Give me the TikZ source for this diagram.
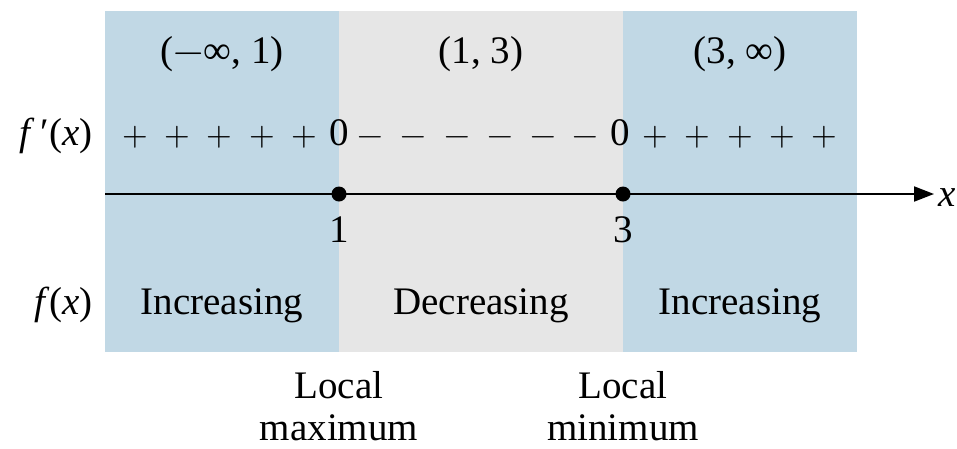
\documentclass[tikz,border=0pt]{standalone}
\usepackage{fontspec}
\setmainfont{Liberation Serif}
\usepackage{unicode-math}
\setmathfont{Latin Modern Math}
\usetikzlibrary{arrows.meta}
\definecolor{bluebg}{HTML}{C1D8E5}
\definecolor{graybg}{HTML}{E6E6E6}
\begin{document}
\begin{tikzpicture}[x=1pt,y=-1pt,
  txt/.style={inner sep=0pt,anchor=base,font=\fontsize{39}{46}\selectfont},
  sgn/.style={inner sep=0pt,anchor=base,font=\fontsize{33}{40}\selectfont},
  dot/.style={circle,fill=black,inner sep=0pt,minimum size=15pt}]
\useasboundingbox (0,0) rectangle (957,448);
% background bands
\fill[bluebg] (105,11) rectangle (339,352);
\fill[graybg] (339,11) rectangle (623,352);
\fill[bluebg] (623,11) rectangle (857,352);
% interval labels
\node[txt] (i1) at (222,63) {($-$∞, 1)};
\node[txt] (i2) at (481,63) {(1, 3)};
\node[txt] (i3) at (740,63) {(3, ∞)};
% f'(x) row
\node[txt,anchor=base east] (fp) at (93,145) {\textit{f}\,′(\textit{x})};
\foreach \x [count=\i] in {135,177,219,262,304} \node[sgn] (pl\i) at (\x,145) {$+$};
\node[txt] (z1) at (339,145) {0};
\foreach \x [count=\i] in {370,413,457,500,543,585} \node[sgn] (mi\i) at (\x,145) {$-$};
\node[txt] (z3) at (620,145) {0};
\foreach \x [count=\i] in {655,697,740,782,824} \node[sgn] (pr\i) at (\x,145) {$+$};
% axis
\coordinate (a0) at (105,194);
\coordinate (a1) at (934,194);
\draw[line width=2pt,-{Triangle[length=20pt,width=15pt]}] (a0) -- (a1);
\node[txt,anchor=base west] (xl) at (938,206) {\textit{x}};
\node[dot] (d1) at (339,194) {};
\node[dot] (d3) at (623,194) {};
\node[txt] (n1) at (339,242) {1};
\node[txt] (n3) at (623,242) {3};
% f(x) row
\node[txt,anchor=base east] (f) at (93,314) {\textit{f}(\textit{x})};
\node[txt] (inc1) at (222,314) {Increasing};
\node[txt] (dec) at (481,314) {Decreasing};
\node[txt] (inc2) at (740,314) {Increasing};
% extrema
\node[txt] (lm1) at (339,398) {Local};
\node[txt] (lm2) at (339,440) {maximum};
\node[txt] (ln1) at (623,398) {Local};
\node[txt] (ln2) at (623,440) {minimum};
\end{tikzpicture}
\end{document}
